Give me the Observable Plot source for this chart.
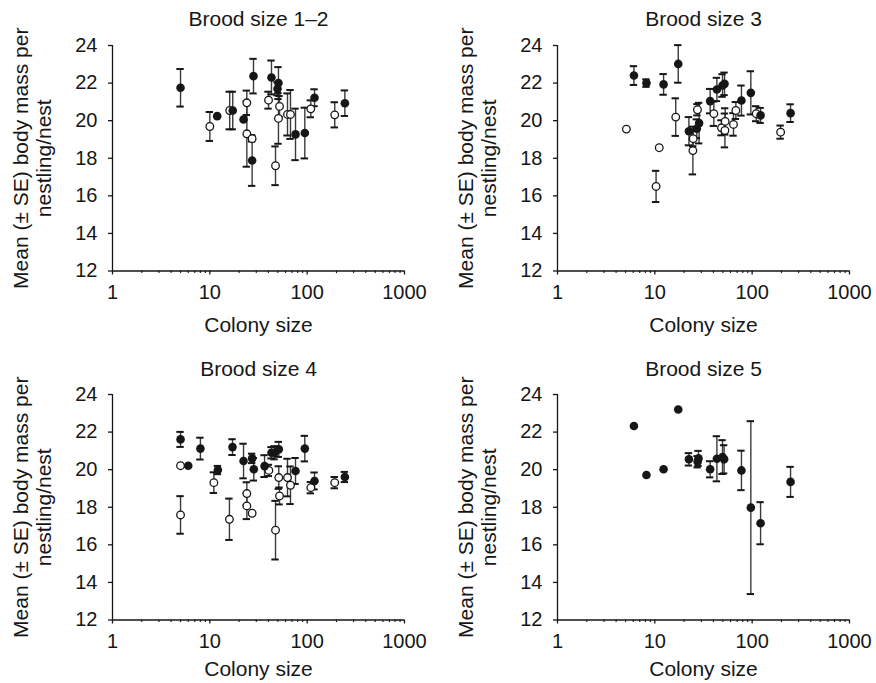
<!DOCTYPE html>
<html><head><meta charset="utf-8">
<script src="https://cdn.jsdelivr.net/npm/d3@7"></script>
<script src="https://cdn.jsdelivr.net/npm/@observablehq/plot@0.6"></script>
<style>
html,body{margin:0;padding:0;background:#fff;overflow:hidden;}
#wrap{position:relative;width:876px;height:683px;}
.cell{position:absolute;}
</style></head><body><div id="wrap"></div>
<script>
// Panel titles, axis text
const panelTitles = ["Brood size 1–2", "Brood size 3", "Brood size 4", "Brood size 5"];
const yLabelLines = ["Mean (± SE) body mass per", "nestling/nest"];
const xLabel = "Colony size";
const xMajorTicks = [1, 10, 100, 1000];
const xMinorTicks = [2,3,4,5,6,7,8,9,20,30,40,50,60,70,80,90,200,300,400,500,600,700,800,900];
const yTicks = [12, 14, 16, 18, 20, 22, 24];

// [colony size, mean mass, SE]  — filled = one group, open = other group
const brood12Filled = [[5,21.75,1.0],[11.9,20.24,0],[17.2,20.54,1.0],[22.2,20.06,0],[28.1,22.37,0.92],[27.2,17.88,1.35],[43,22.3,0.9],[50.7,22.0,0.85],[49.6,21.7,0.35],[75.9,19.27,1.37],[94.6,19.34,1.35],[119,21.22,0.45],[244,20.93,0.68]];
const brood12Open = [[10,19.69,0.77],[16,20.54,1.0],[24,20.95,0.65],[24,19.3,1.75],[27.2,19.04,0.15],[40.1,21.09,0.45],[52,20.76,0.55],[50.7,20.12,1.35],[47.3,17.6,1.03],[62.8,20.33,1.12],[67.4,20.33,1.3],[109,20.63,0.45],[192,20.31,0.67]];

const brood3Filled = [[6.1,22.4,0.5],[8.2,22.0,0.2],[12.3,21.93,0.55],[17.4,23.02,1.0],[22.4,19.44,0.75],[27,19.57,0.5],[28.5,19.87,1.08],[37,21.04,0.65],[43.4,21.66,0.62],[49.6,21.87,0.6],[52,21.96,0.6],[77.6,21.07,0.8],[96.9,21.48,1.15],[122,20.28,0.4],[248,20.4,0.47]];
const brood3Open = [[5.1,19.55,0],[11.1,18.56,0],[10.3,16.5,0.83],[16.4,20.19,1.0],[24.8,19.04,0.4],[24.6,18.41,1.27],[27.4,20.58,0.3],[40.4,20.37,0.65],[48.4,19.62,0.4],[52.8,19.96,0.7],[52.5,19.48,0.9],[64.3,19.8,0.6],[68,20.54,0.45],[110,20.37,0.4],[196,19.39,0.35]];

const brood4Filled = [[5,21.61,0.4],[6,20.21,0],[8,21.12,0.58],[12.1,19.98,0.22],[17.1,21.2,0.42],[22.2,20.46,0.92],[27.2,20.6,0.25],[28.3,20.02,0.6],[36.5,20.19,0.58],[43,20.9,0.3],[46.2,20.9,0.35],[51.1,21.08,0.4],[75.9,19.93,0.69],[94.6,21.12,0.68],[119,19.4,0.45],[244,19.61,0.27]];
const brood4Open = [[5,20.21,0],[5,17.59,1.0],[11,19.31,0.55],[15.9,17.36,1.1],[24,18.73,0.6],[24,18.07,0.7],[27.2,17.68,0],[40.4,19.96,0.3],[51.1,19.58,0.6],[52,18.6,0.45],[47.3,16.78,1.56],[62.8,19.58,1.0],[67.4,19.17,1.0],[109,19.04,0.3],[192,19.31,0.3]];

const brood5Filled = [[6.1,22.32,0],[8.2,19.72,0],[12.3,20.02,0],[17.4,23.2,0],[22.4,20.55,0.33],[28.1,20.6,0.4],[27.5,20.42,0.3],[37,20.02,0.43],[43.4,20.58,1.2],[49.6,20.67,0.9],[51.5,20.55,0.75],[77.6,19.96,1.05],[96.9,17.98,4.6],[122,17.15,1.12],[248,19.35,0.8]];
const brood5Open = [];

const FONT = "'Liberation Sans', Arial, Helvetica, sans-serif";
const INK = "#161616";

function panel(title, filled, open, w, h, xLabelDy, titleDy) {
  const toObj = a => a.map(([x, y, se]) => ({x, y, se}));
  const F = toObj(filled), O = toObj(open);
  const bars = [...O, ...F].filter(d => d.se > 0);
  const capOpts = {x1: "x", x2: "x", insetLeft: -3.7, insetRight: -3.7, stroke: INK, strokeWidth: 2};
  const lbl = {text: d => d, fontSize: 21, fill: INK, lineAnchor: "middle", textAnchor: "middle"};
  return Plot.plot({
    width: w, height: h,
    marginLeft: 112, marginRight: w - 112 - 292, marginTop: 45, marginBottom: h - 270.5,
    style: {fontFamily: FONT, fontSize: "20px", color: INK, background: "white", overflow: "visible"},
    x: {type: "log", domain: [1, 1000]},
    y: {domain: [12, 24]},
    marks: [
      Plot.axisY(yTicks, {tickSize: 4, tickPadding: 11, label: null, strokeWidth: 1.3, fontSize: 20}),
      Plot.axisX(xMajorTicks, {tickSize: 4, tickPadding: 10, tickFormat: d => String(d), label: null, strokeWidth: 1.3, fontSize: 20}),
      Plot.axisX(xMinorTicks, {tickSize: 2.6, tickFormat: () => "", label: null, strokeWidth: 1.1}),
      Plot.ruleX([1], {y1: 12, y2: 24, stroke: INK, strokeWidth: 1.3}),
      Plot.ruleY([12], {x1: 1, x2: 1000, stroke: INK, strokeWidth: 1.3}),
      Plot.ruleX(bars, {x: "x", y1: d => d.y - d.se, y2: d => d.y + d.se, stroke: "#3a3a3a", strokeWidth: 1.4}),
      Plot.ruleY(bars, {y: d => d.y + d.se, ...capOpts}),
      Plot.ruleY(bars, {y: d => d.y - d.se, ...capOpts}),
      Plot.dot(O, {x: "x", y: "y", r: 3.8, fill: "white", stroke: INK, strokeWidth: 1.3}),
      Plot.dot(F, {x: "x", y: "y", r: 4.3, fill: INK, stroke: "none"}),
      Plot.text([title], {...lbl, frameAnchor: "top", dy: titleDy}),
      Plot.text([xLabel], {...lbl, frameAnchor: "bottom", dy: xLabelDy}),
      Plot.text([yLabelLines[0]], {...lbl, frameAnchor: "left", rotate: -90, dx: -91}),
      Plot.text([yLabelLines[1]], {...lbl, frameAnchor: "left", rotate: -90, dx: -68})
    ]
  });
}

const wrap = document.getElementById("wrap");
const cells = [
  {left: 0, top: 0, w: 445, h: 349, f: brood12Filled, o: brood12Open, xd: 54.5, td: -26},
  {left: 445, top: 0, w: 431, h: 349, f: brood3Filled, o: brood3Open, xd: 54.5, td: -26},
  {left: 0, top: 349, w: 445, h: 334, f: brood4Filled, o: brood4Open, xd: 49, td: -25},
  {left: 445, top: 349, w: 431, h: 334, f: brood5Filled, o: brood5Open, xd: 49, td: -25}
];
cells.forEach((c, i) => {
  const div = document.createElement("div");
  div.className = "cell";
  div.style.left = c.left + "px";
  div.style.top = c.top + "px";
  div.appendChild(panel(panelTitles[i], c.f, c.o, c.w, c.h, c.xd, c.td));
  wrap.appendChild(div);
});
</script></body></html>
